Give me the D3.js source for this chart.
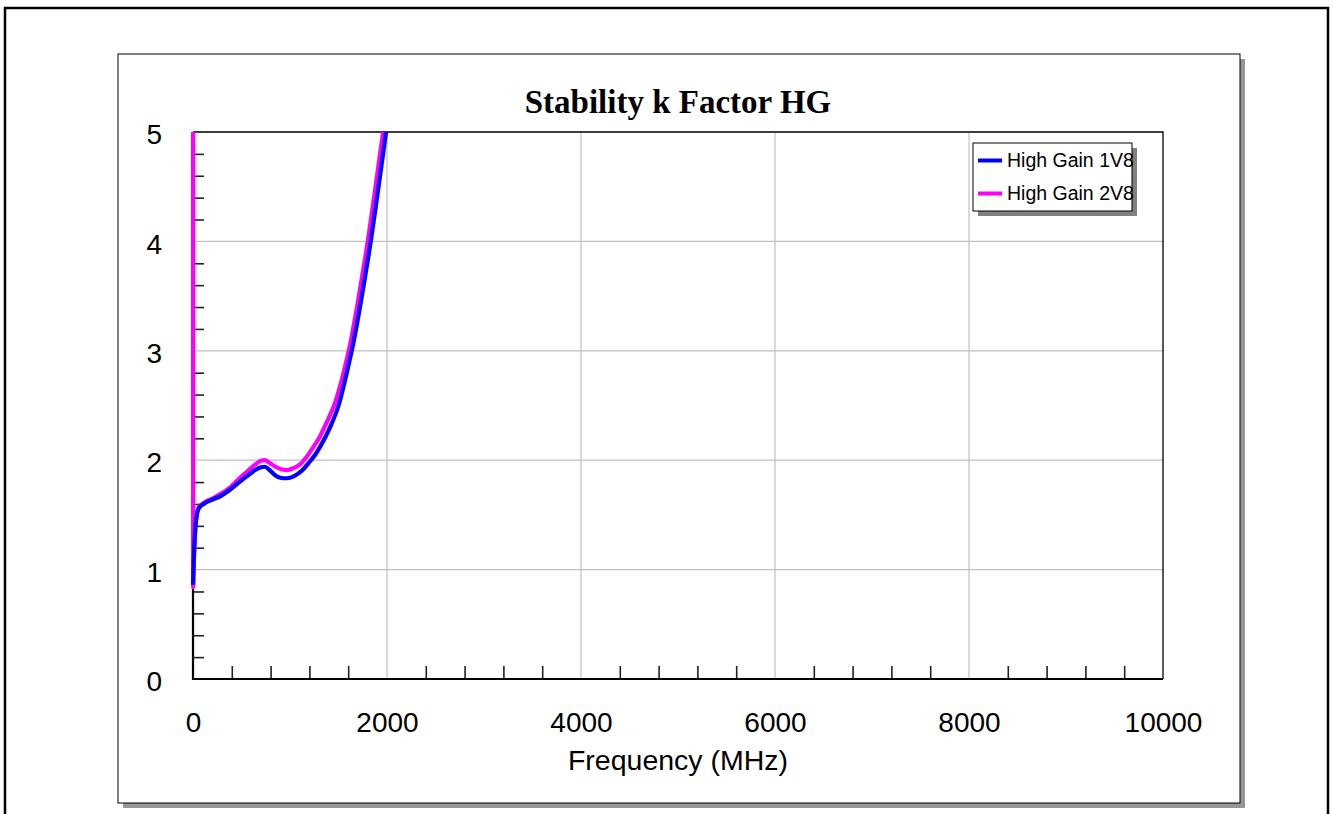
<!DOCTYPE html>
<html>
<head>
<meta charset="utf-8">
<script src="https://cdn.jsdelivr.net/npm/d3@7"></script>
<style>
  html, body { margin: 0; padding: 0; background: #fff; }
  svg { display: block; }
  .tick-label text { font-family: "Liberation Sans", Arial, sans-serif; font-size: 28px; fill: #000; }
</style>
</head>
<body>
<svg id="chart" width="1333" height="814"></svg>
<script>
// Stability k factor vs frequency, high-gain mode at two supply voltages
const title = "Stability k Factor HG";
const xTitle = "Frequency (MHz)";
const seriesNames = ["High Gain 1V8", "High Gain 2V8"];
const seriesColors = ["#0000ff", "#ff00ff"];

const xTicks = [0, 2000, 4000, 6000, 8000, 10000];
const yTicks = [0, 1, 2, 3, 4, 5];

// [frequency MHz, k]
const hg1v8 = [
  [0, 0.86], [8, 1.1], [18, 1.3], [35, 1.48], [60, 1.56], [110, 1.6], [200, 1.64],
  [280, 1.67], [380, 1.73], [450, 1.78], [550, 1.85], [640, 1.91], [700, 1.935],
  [740, 1.94], [790, 1.91], [850, 1.86], [900, 1.84], [960, 1.835], [1020, 1.845],
  [1080, 1.875], [1140, 1.92], [1206, 1.99], [1260, 2.05], [1309, 2.12], [1412, 2.3],
  [1500, 2.5], [1585, 2.8], [1653, 3.07], [1739, 3.49], [1808, 3.86],
  [1849, 4.1], [1900, 4.42], [1950, 4.74], [1990, 5.0], [2020, 5.2]
];
const hg2v8 = [
  [0, 8.0], [1, 0.84], [10, 1.1], [20, 1.32], [38, 1.5], [60, 1.57], [110, 1.61],
  [200, 1.65], [280, 1.69], [380, 1.75], [450, 1.81], [550, 1.89], [640, 1.96],
  [700, 1.995], [740, 2.0], [790, 1.975], [850, 1.94], [920, 1.915], [970, 1.91],
  [1030, 1.925], [1100, 1.96], [1170, 2.03], [1240, 2.12], [1310, 2.22], [1380, 2.35],
  [1470, 2.54], [1555, 2.81], [1622, 3.07], [1708, 3.49], [1777, 3.86],
  [1818, 4.1], [1869, 4.42], [1919, 4.74], [1960, 5.0], [1990, 5.2]
];
const series = [hg1v8, hg2v8];

const svg = d3.select("#chart");

// outer page frame
svg.append("rect").attr("x", 5).attr("y", 8).attr("width", 1323).attr("height", 830)
  .attr("fill", "none").attr("stroke", "#000").attr("stroke-width", 2.5);

// chart panel with drop shadow
const panel = { x: 118, y: 54, w: 1122, h: 749 };
svg.append("rect").attr("x", panel.x + 5).attr("y", panel.y + 5)
  .attr("width", panel.w).attr("height", panel.h).attr("fill", "#969696");
svg.append("rect").attr("x", panel.x).attr("y", panel.y)
  .attr("width", panel.w).attr("height", panel.h)
  .attr("fill", "#fff").attr("stroke", "#000").attr("stroke-width", 1);

const plot = { left: 193, right: 1163, top: 132, bottom: 679 };
const x = d3.scaleLinear().domain([0, 10000]).range([plot.left, plot.right]);
const y = d3.scaleLinear().domain([0, 5]).range([plot.bottom, plot.top]);

// title
svg.append("text").attr("x", (plot.left + plot.right) / 2).attr("y", 113)
  .attr("text-anchor", "middle")
  .attr("font-family", "'Liberation Serif', 'Times New Roman', serif")
  .attr("font-weight", "bold").attr("font-size", 33)
  .text(title);

// grid
const grid = svg.append("g");
grid.selectAll(".gx").data(xTicks.filter(d => d > 0 && d < 10000)).join("line")
  .attr("x1", d => x(d)).attr("x2", d => x(d))
  .attr("y1", plot.top).attr("y2", plot.bottom)
  .attr("stroke", "#c0c0c0").attr("stroke-width", 1.2);
grid.selectAll(".gy").data(yTicks.filter(d => d > 0 && d < 5)).join("line")
  .attr("x1", plot.left).attr("x2", plot.right)
  .attr("y1", d => y(d)).attr("y2", d => y(d))
  .attr("stroke", "#c0c0c0").attr("stroke-width", 1.2);

// plot frame: thin top/right border
svg.append("path")
  .attr("d", `M${plot.left},${plot.top}H${plot.right}V${plot.bottom}`)
  .attr("fill", "none").attr("stroke", "#000").attr("stroke-width", 1.3);

// minor ticks, pointing inward
const xMinor = d3.range(400, 10000, 400).filter(d => d % 2000 !== 0);
const yMinor = d3.range(0.2, 5, 0.2).map(d => +d.toFixed(1)).filter(d => Math.abs(d - Math.round(d)) > 1e-6);

const xMinorAxis = svg.append("g").attr("transform", `translate(0,${plot.bottom})`)
  .call(d3.axisBottom(x).tickValues(xMinor).tickSize(-13).tickFormat(""));
const yMinorAxis = svg.append("g").attr("transform", `translate(${plot.left},0)`)
  .call(d3.axisLeft(y).tickValues(yMinor).tickSize(-11).tickFormat(""));
[xMinorAxis, yMinorAxis].forEach(g => {
  g.select(".domain").remove();
  g.selectAll(".tick line").attr("stroke", "#222").attr("stroke-width", 1.6);
});

// tick labels
const xLabelAxis = svg.append("g").attr("class", "tick-label")
  .attr("transform", `translate(0,${plot.bottom})`)
  .call(d3.axisBottom(x).tickValues(xTicks).tickSize(0).tickPadding(33).tickFormat(d3.format("d")));
const yLabelAxis = svg.append("g").attr("class", "tick-label")
  .attr("transform", `translate(${plot.left},0)`)
  .call(d3.axisLeft(y).tickValues(yTicks).tickSize(0).tickPadding(31).tickFormat(d3.format("d")));
[xLabelAxis, yLabelAxis].forEach(g => {
  g.select(".domain").remove();
  g.selectAll("text").attr("font-family", null).attr("font-size", null);
});
yLabelAxis.selectAll("text").attr("dy", "0.42em");

// axis title
svg.append("text").attr("x", (plot.left + plot.right) / 2).attr("y", 770)
  .attr("text-anchor", "middle")
  .attr("font-family", "'Liberation Sans', Arial, sans-serif").attr("font-size", 28.5)
  .text(xTitle);

// curves (clip leaves room for the trace that runs along the y axis)
svg.append("clipPath").attr("id", "plot-clip").append("rect")
  .attr("x", plot.left - 4).attr("y", plot.top)
  .attr("width", plot.right - plot.left + 4).attr("height", plot.bottom - plot.top);

const line = d3.line().x(d => x(d[0])).y(d => y(d[1])).curve(d3.curveMonotoneX);
const curves = svg.append("g").attr("clip-path", "url(#plot-clip)");

// left and bottom axis lines
svg.append("path")
  .attr("d", `M${plot.left},${plot.top}V${plot.bottom}H${plot.right}`)
  .attr("fill", "none").attr("stroke", "#000").attr("stroke-width", 2.2);

[1, 0].forEach(i => {
  curves.append("path").datum(series[i])
    .attr("d", line).attr("fill", "none")
    .attr("stroke", seriesColors[i]).attr("stroke-width", 4.2)
    .attr("stroke-linejoin", "round").attr("stroke-linecap", "butt");
});
curves.raise();

// legend
const lg = { x: 973, y: 143, w: 159, h: 68 };
const legend = svg.append("g");
legend.append("rect").attr("x", lg.x + 5).attr("y", lg.y + 5).attr("width", lg.w).attr("height", lg.h)
  .attr("fill", "#808080");
legend.append("rect").attr("x", lg.x).attr("y", lg.y).attr("width", lg.w).attr("height", lg.h)
  .attr("fill", "#fff").attr("stroke", "#000").attr("stroke-width", 1);
seriesNames.forEach((name, i) => {
  const cy = lg.y + 17.5 + i * 33;
  legend.append("line").attr("x1", lg.x + 5).attr("x2", lg.x + 29)
    .attr("y1", cy).attr("y2", cy)
    .attr("stroke", seriesColors[i]).attr("stroke-width", 4);
  legend.append("text").attr("x", lg.x + 34).attr("y", cy + 6.5)
    .attr("font-family", "'Liberation Sans', Arial, sans-serif").attr("font-size", 19.5)
    .text(name);
});
</script>
</body>
</html>
